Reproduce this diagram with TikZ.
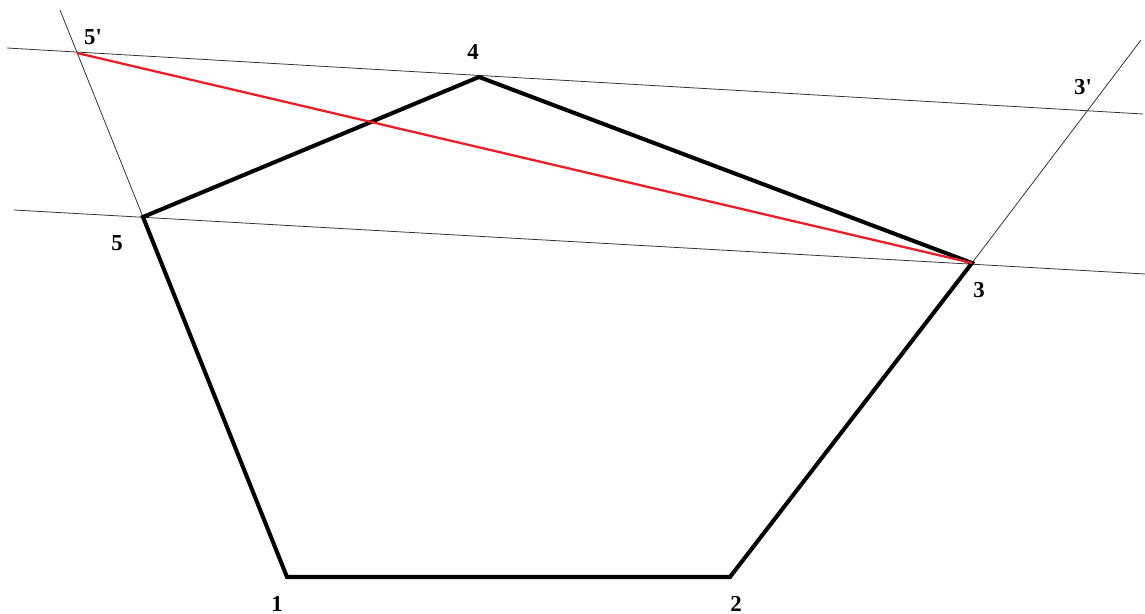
\documentclass[tikz,border=0pt]{standalone}
\usepackage{fontspec}
\setmainfont{Liberation Serif}
\usetikzlibrary{positioning}
\definecolor{EdgeBlack}{HTML}{000000}
\definecolor{GuideGrey}{HTML}{333333}
\definecolor{DiagRed}{HTML}{EE1C24}
\tikzset{
  edge/.style={EdgeBlack, line width=2.3pt, line join=miter},
  guide/.style={GuideGrey, line width=0.45pt},
  diag/.style={DiagRed, line width=1.3pt},
  vlabel/.style={font=\fontsize{13}{15}\selectfont\bfseries, inner sep=0pt}
}

\begin{document}
\begin{tikzpicture}[x=0.02cm,y=-0.02cm]
        \useasboundingbox (0,0) rectangle (1145,614);
        % vertices
        \coordinate (p1) at (287,577);
        \coordinate (p2) at (730,577);
        \coordinate (p3) at (972,263);
        \coordinate (p4) at (479,77);
        \coordinate (p5) at (143,217);
        \coordinate (q5) at (77,53);
        \coordinate (q3) at (1087,111);
        % free ends of the guide lines
        \coordinate (lowL) at (14,210);
        \coordinate (lowR) at (1145,274);
        \coordinate (upL) at (7,48);
        \coordinate (upR) at (1143,114);
        \coordinate (sideL) at (60,10);
        \coordinate (sideR) at (1141,40);
        \draw[guide] (lowL) -- (lowR);
        \draw[guide] (upL) -- (upR);
        \draw[guide] (p5) -- (sideL);
        \draw[guide] (p3) -- (sideR);
        \draw[edge] (p1) -- (p2) -- (p3) -- (p4) -- (p5) -- cycle;
        \draw[diag] (q5) -- (p3);
        \node[vlabel] (l1) at (277,604) {1};
        \node[vlabel] (l2) at (736,604) {2};
        \node[vlabel] (l3) at (979,290) {3};
        \node[vlabel] (l4) at (473,52) {4};
        \node[vlabel] (l5) at (117,243) {5};
        \node[vlabel] (l5p) at (93,37) {5\textquotesingle};
        \node[vlabel] (l3p) at (1083,87) {3\textquotesingle};
      \end{tikzpicture}
\end{document}
